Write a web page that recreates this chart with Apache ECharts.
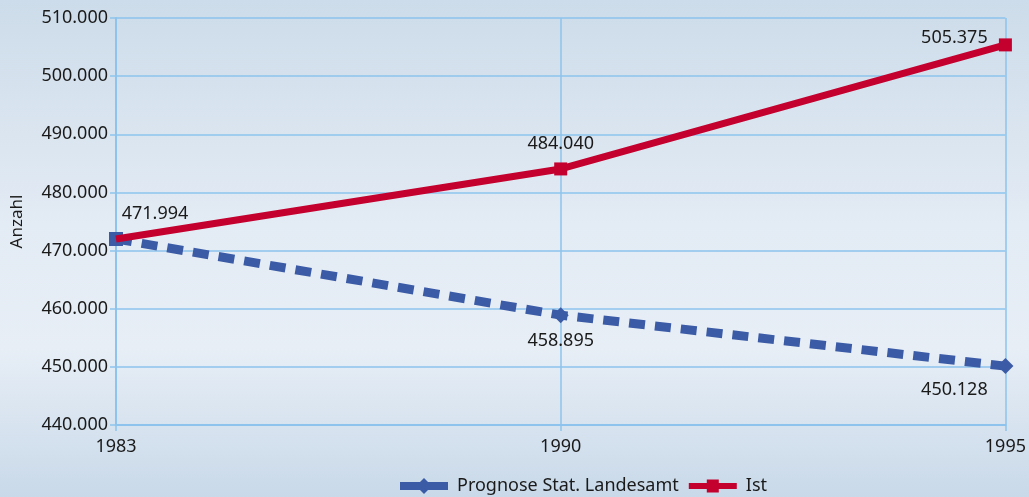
<!DOCTYPE html>
<html><head><meta charset="utf-8">
<script src="https://cdn.jsdelivr.net/npm/echarts@6/dist/echarts.min.js"></script>
<style>html,body{margin:0;padding:0}#c{width:1029px;height:497px}</style>
</head><body><div id="c"></div>
<script>
const years = ['1983', '1990', '1995'];
const prognose = [471994, 458895, 450128];
const ist = [471994, 484040, 505375];
const yTicks = [440000, 450000, 460000, 470000, 480000, 490000, 500000, 510000];

function fmt(v) {
  const s = String(Math.round(v));
  return s.replace(/\B(?=(\d{3})+(?!\d))/g, '.');
}
const FONT = 'Noto Sans';
const FS = 18;
const labelBase = { show: true, fontFamily: FONT, fontSize: FS, color: '#1a1a1a', formatter: p => fmt(p.value) };
const iconDiamond = 'path://M0,4 L20,4 L24,0 L28,4 L48,4 L48,12 L28,12 L24,16 L20,12 L0,12 Z';
const iconSquare = 'path://M0,5 L18,5 L18,1.5 L30,1.5 L30,5 L48,5 L48,11 L30,11 L30,14.5 L18,14.5 L18,11 L0,11 Z';

const chart = echarts.init(document.getElementById('c'));
chart.setOption({
  backgroundColor: {
    type: 'linear', x: 0, y: 0, x2: 0, y2: 1,
    colorStops: [
      { offset: 0, color: '#cddcea' },
      { offset: 0.45, color: '#e3ebf4' },
      { offset: 0.7, color: '#e7eef6' },
      { offset: 1, color: '#c9d9e9' }
    ]
  },
  animation: false,
  grid: { left: 116, right: 23, top: 18, bottom: 72, containLabel: false },
  legend: {
    top: 472, left: 395,
    itemWidth: 48, itemHeight: 16, itemGap: 10,
    textStyle: { fontFamily: FONT, fontSize: FS, color: '#1a1a1a', padding: [0, 0, 0, 4] },
    data: [
      { name: 'Prognose Stat. Landesamt', icon: iconDiamond },
      { name: 'Ist', icon: iconSquare }
    ]
  },
  xAxis: {
    type: 'category', data: years, boundaryGap: false,
    axisLine: { lineStyle: { color: '#8dc3ec', width: 2 } },
    axisTick: { show: true, length: 6, lineStyle: { color: '#8dc3ec', width: 1.5 } },
    axisLabel: { fontFamily: FONT, fontSize: FS, color: '#1a1a1a', margin: 13 },
    splitLine: { show: true, lineStyle: { color: '#8dc3ec', width: 1.5 } }
  },
  yAxis: {
    type: 'value', min: yTicks[0], max: yTicks[yTicks.length - 1], interval: 10000,
    name: 'Anzahl', nameLocation: 'middle', nameGap: 90, nameRotate: 90,
    nameTextStyle: { fontFamily: FONT, fontSize: 17, color: '#1a1a1a' },
    axisLine: { show: true, lineStyle: { color: '#8dc3ec', width: 2 } },
    axisTick: { show: true, length: 6, lineStyle: { color: '#8dc3ec', width: 1.5 } },
    axisLabel: { fontFamily: FONT, fontSize: FS, color: '#1a1a1a', margin: 8, formatter: v => fmt(v) },
    splitLine: { show: true, lineStyle: { color: '#8dc3ec', width: 1.5 } }
  },
  series: [
    {
      name: 'Prognose Stat. Landesamt', type: 'line',
      symbol: 'diamond', symbolSize: 16,
      itemStyle: { color: '#3b5ba6' },
      lineStyle: { color: '#3b5ba6', width: 9, type: [16, 10] },
      data: [
        { value: prognose[0], symbol: 'rect', symbolSize: 14, label: { show: false } },
        { value: prognose[1], label: Object.assign({}, labelBase, { position: 'bottom', distance: 9 }) },
        { value: prognose[2], label: Object.assign({}, labelBase, { position: 'bottom', distance: 7, offset: [-51, 0] }) }
      ],
      z: 2
    },
    {
      name: 'Ist', type: 'line',
      symbol: 'rect', symbolSize: 13,
      itemStyle: { color: '#c4002e' },
      lineStyle: { color: '#c4002e', width: 7 },
      data: [
        { value: ist[0], symbolSize: 0, label: Object.assign({}, labelBase, { position: 'top', distance: 16, offset: [39, 0] }) },
        { value: ist[1], label: Object.assign({}, labelBase, { position: 'top', distance: 10 }) },
        { value: ist[2], label: Object.assign({}, labelBase, { position: 'top', distance: 0, offset: [-51, 8] }) }
      ],
      z: 3
    }
  ]
});
</script></body></html>
